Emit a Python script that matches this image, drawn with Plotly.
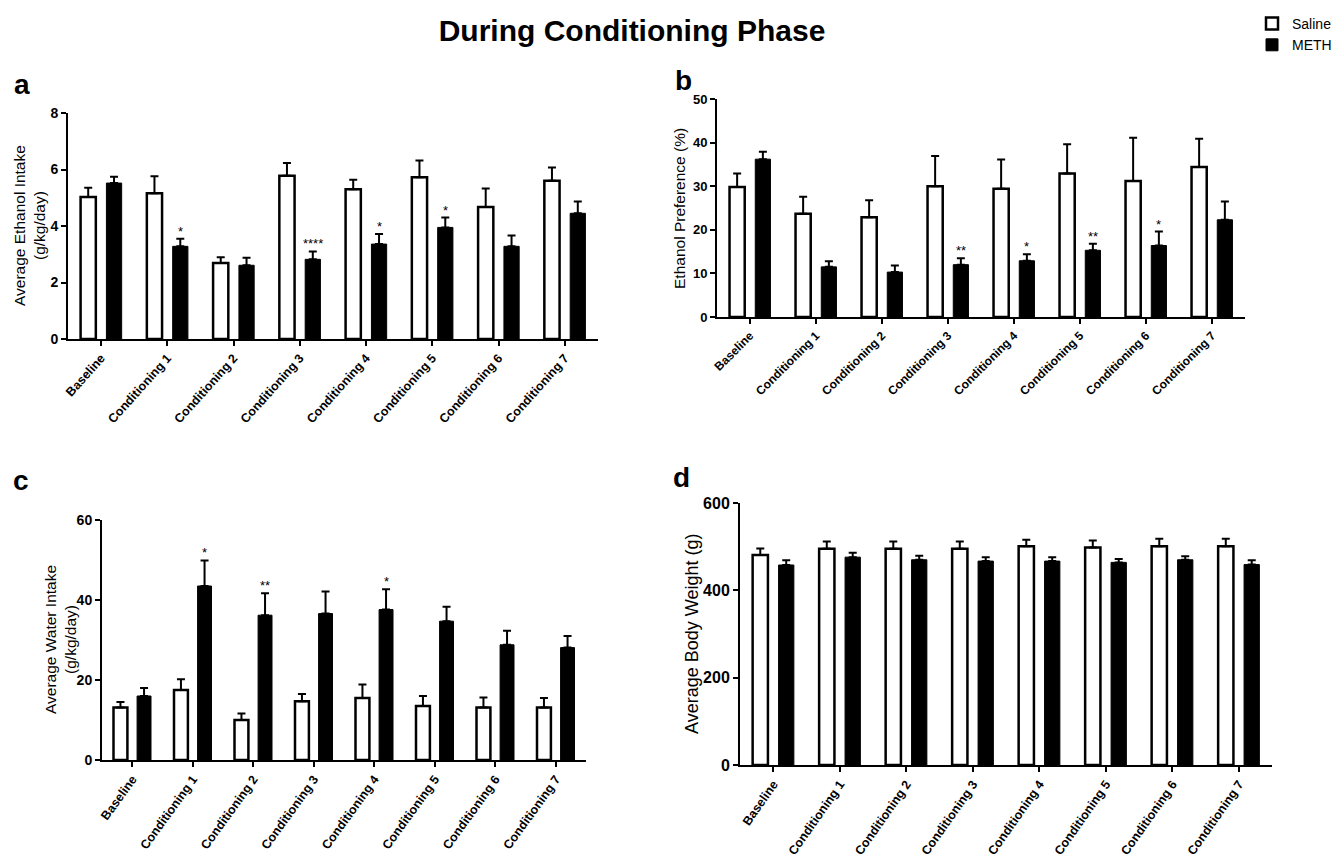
import plotly.graph_objects as go

W, H = 1338, 862

categories = ["Baseline", "Conditioning 1", "Conditioning 2", "Conditioning 3",
              "Conditioning 4", "Conditioning 5", "Conditioning 6", "Conditioning 7"]

# Panel a: Average Ethanol Intake (g/kg/day)
a_saline = [5.03, 5.16, 2.69, 5.78, 5.30, 5.73, 4.67, 5.60]
a_saline_err = [0.32, 0.60, 0.20, 0.45, 0.34, 0.59, 0.66, 0.47]
a_meth = [5.52, 3.28, 2.61, 2.82, 3.36, 3.95, 3.28, 4.45]
a_meth_err = [0.22, 0.27, 0.27, 0.28, 0.36, 0.35, 0.38, 0.42]
a_sig = ["", "*", "", "****", "*", "*", "", ""]

# Panel b: Ethanol Preference (%)
b_saline = [29.8, 23.7, 22.9, 30.0, 29.4, 32.9, 31.2, 34.4]
b_saline_err = [3.1, 3.9, 3.9, 6.9, 6.7, 6.7, 9.9, 6.5]
b_meth = [36.2, 11.5, 10.3, 12.0, 12.9, 15.3, 16.4, 22.3]
b_meth_err = [1.7, 1.3, 1.5, 1.5, 1.5, 1.5, 3.2, 4.2]
b_sig = ["", "", "", "**", "*", "**", "*", ""]

# Panel c: Average Water Intake (g/kg/day)
c_saline = [13.1, 17.5, 10.0, 14.7, 15.5, 13.5, 13.1, 13.1]
c_saline_err = [1.4, 2.7, 1.6, 1.8, 3.4, 2.5, 2.5, 2.4]
c_meth = [16.0, 43.5, 36.2, 36.6, 37.6, 34.7, 28.8, 28.1]
c_meth_err = [2.0, 6.4, 5.5, 5.5, 5.1, 3.6, 3.5, 2.9]
c_sig = ["", "*", "**", "", "*", "", "", ""]

# Panel d: Average Body Weight (g)
d_saline = [481, 495, 495, 495, 501, 498, 501, 501]
d_saline_err = [15, 17, 17, 17, 15, 16, 17, 17]
d_meth = [458, 476, 470, 467, 467, 464, 470, 459]
d_meth_err = [11, 10, 9, 9, 9, 8, 8, 10]
d_sig = ["", "", "", "", "", "", "", ""]

TICK_FONT = "Liberation Sans Narrow, Arial Narrow, Liberation Sans, Arial, sans-serif"
TEXT_FONT = "Liberation Sans, Arial, sans-serif"

# panel layout in pixels: (x0, x1), (ytop, ybottom)
panels = [
    dict(name="a", x=(68, 598), y=(113, 339), yrange=[0, 8], dtick=2,
         saline=a_saline, se=a_saline_err, meth=a_meth, me=a_meth_err, sig=a_sig,
         title="Average Ethanol Intake<br>(g/kg/day)", title_x=30, title_size=15.5,
         ytick_size=14, xtick_size=12.5, xangle=-48, label=(22, 84)),
    dict(name="b", x=(717, 1245), y=(99, 317), yrange=[0, 50], dtick=10,
         saline=b_saline, se=b_saline_err, meth=b_meth, me=b_meth_err, sig=b_sig,
         title="Ethanol Preference (%)", title_x=679, title_size=15.5,
         ytick_size=13, xtick_size=12, xangle=-45, label=(683, 80)),
    dict(name="c", x=(102, 586), y=(520, 760), yrange=[0, 60], dtick=20,
         saline=c_saline, se=c_saline_err, meth=c_meth, me=c_meth_err, sig=c_sig,
         title="Average Water Intake<br>(g/kg/day)", title_x=60, title_size=15.5,
         ytick_size=14, xtick_size=12.5, xangle=-54, label=(21, 480)),
    dict(name="d", x=(740, 1272), y=(503, 765), yrange=[0, 600], dtick=200,
         saline=d_saline, se=d_saline_err, meth=d_meth, me=d_meth_err, sig=d_sig,
         title="Average Body Weight (g)", title_x=692, title_size=18,
         ytick_size=16, xtick_size=12.5, xangle=-55, label=(682, 477)),
]

fig = go.Figure()
annotations = []
idx = list(range(len(categories)))
BAR_W = 0.23

for i, p in enumerate(panels):
    n = "" if i == 0 else str(i + 1)
    xa, ya = "x" + n, "y" + n
    fig.add_trace(go.Bar(
        x=idx, y=p["saline"], name="Saline", xaxis=xa, yaxis=ya,
        width=BAR_W, offset=-0.31,
        marker=dict(color="white", line=dict(color="black", width=2.5)),
        error_y=dict(type="data", array=p["se"], arrayminus=[0] * 8, symmetric=False,
                     color="black", thickness=2, width=4),
        showlegend=(i == 0), legendgroup="saline"))
    fig.add_trace(go.Bar(
        x=idx, y=p["meth"], name="METH", xaxis=xa, yaxis=ya,
        width=BAR_W, offset=0.08,
        marker=dict(color="black", line=dict(color="black", width=1)),
        error_y=dict(type="data", array=p["me"], arrayminus=[0] * 8, symmetric=False,
                     color="black", thickness=2, width=4),
        showlegend=(i == 0), legendgroup="meth"))

    x0, x1 = p["x"]
    yt, yb = p["y"]
    fig.layout["xaxis" + n] = dict(
        domain=[x0 / W, x1 / W], anchor=ya, range=[-0.5, 7.5], automargin=False,
        tickmode="array", tickvals=idx, ticktext=categories, tickangle=p["xangle"],
        ticks="outside", ticklen=5, tickwidth=2, tickcolor="black",
        showline=True, linecolor="black", linewidth=2, showgrid=False, zeroline=False,
        tickfont=dict(family=TEXT_FONT, size=p["xtick_size"], color="black", weight="bold"))
    fig.layout["yaxis" + n] = dict(
        domain=[1 - yb / H, 1 - yt / H], anchor=xa, range=p["yrange"], automargin=False,
        tickmode="linear", tick0=0, dtick=p["dtick"],
        ticks="outside", ticklen=5, tickwidth=2, tickcolor="black",
        showline=True, linecolor="black", linewidth=2, showgrid=False, zeroline=False,
        tickfont=dict(family=TICK_FONT, size=p["ytick_size"], color="black", weight="bold"))

    # y-axis title
    annotations.append(dict(
        text=p["title"], textangle=-90, x=p["title_x"] / W, y=1 - (yt + yb) / 2 / H,
        xref="paper", yref="paper", xanchor="center", yanchor="middle", showarrow=False,
        font=dict(family=TEXT_FONT, size=p["title_size"], color="black")))
    # panel letter
    annotations.append(dict(
        text="<b>%s</b>" % p["name"], x=p["label"][0] / W, y=1 - p["label"][1] / H,
        xref="paper", yref="paper", xanchor="center", yanchor="middle", showarrow=False,
        font=dict(family=TEXT_FONT, size=28, color="black")))
    # significance marks above METH bars
    for k, s in enumerate(p["sig"]):
        if s:
            annotations.append(dict(
                text=s, x=k + 0.08 + BAR_W / 2, y=p["meth"][k] + p["me"][k],
                xref=xa, yref=ya, xanchor="center", yanchor="bottom", showarrow=False,
                yshift=-2, font=dict(family=TEXT_FONT, size=13, color="black")))

fig.update_layout(
    width=W, height=H, margin=dict(l=0, r=0, t=0, b=0, autoexpand=False),
    paper_bgcolor="white", plot_bgcolor="white",
    barmode="overlay",
    title=dict(text="<b>During Conditioning Phase</b>", x=632 / W, y=1 - 30 / H,
               xanchor="center", yanchor="middle", automargin=False,
               font=dict(family=TEXT_FONT, size=30, color="black")),
    legend=dict(x=1252 / W, y=1 - 8 / H, xanchor="left", yanchor="top",
                font=dict(family=TEXT_FONT, size=14, color="black"),
                bgcolor="rgba(0,0,0,0)", tracegroupgap=0, itemwidth=30),
    annotations=annotations,
)

fig.write_html("out.html", config={"displayModeBar": False},
               post_script="document.body.style.margin='0';document.body.style.padding='0';")
